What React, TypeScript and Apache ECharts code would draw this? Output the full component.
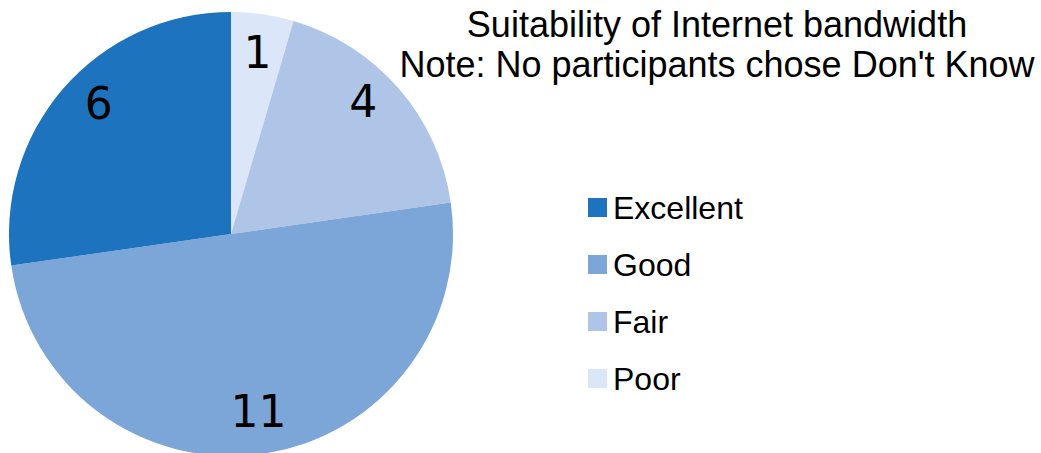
import React, { useEffect, useRef } from "react";
import * as echarts from "echarts";

const categories = ["Excellent", "Good", "Fair", "Poor"];
const values = [6, 11, 4, 1];
const colors = ["#1e73be", "#7da6d8", "#aec5e7", "#dbe7f8"];
// order of slices, clockwise from 12 o'clock
const sliceOrder = ["Poor", "Fair", "Good", "Excellent"];
const titleLines = [
  "Suitability of Internet bandwidth",
  "Note: No participants chose Don't Know",
];
// small label nudges (style only)
const labelOffsets: Record<string, number[]> = {
  Poor: [0, 4],
  Fair: [-9, -10],
  Good: [1, -8],
  Excellent: [9, -8],
};

export default function App() {
  const ref = useRef<HTMLDivElement>(null);
  useEffect(() => {
    document.body.style.margin = "0";
    const chart = echarts.init(ref.current!, null, { renderer: "svg" });
    const slices = sliceOrder.map((n) => {
      const i = categories.indexOf(n);
      return { name: n, value: values[i], itemStyle: { color: colors[i] } };
    });
    const center = [231, 234];
    const R = 222;
    chart.setOption({
      animation: false,
      graphic: [
        {
          type: "text",
          x: 717,
          y: 4,
          style: {
            text: titleLines.join("\n"),
            fill: "#000",
            fontSize: 36,
            fontFamily: "Liberation Sans",
            align: "center",
            textAlign: "center",
            verticalAlign: "top",
            textVerticalAlign: "top",
            lineHeight: 40,
          },
        },
      ],
      legend: {
        data: categories,
        orient: "vertical",
        left: 588,
        top: 191.5,
        padding: 0,
        itemWidth: 19,
        itemHeight: 19,
        itemGap: 25,
        icon: "rect",
        textStyle: {
          fontSize: 32,
          fontFamily: "Liberation Sans",
          color: "#000",
          lineHeight: 32,
          padding: [0, 0, 0, 1],
        },
      },
      series: [
        {
          type: "pie",
          center,
          radius: [0, R],
          startAngle: 90,
          clockwise: true,
          silent: true,
          data: slices,
          label: { show: false },
          labelLine: { show: false },
          itemStyle: { borderWidth: 0 },
        },
        {
          type: "pie",
          center,
          radius: [146, R],
          startAngle: 90,
          clockwise: true,
          silent: true,
          data: slices.map((s) => ({
            name: s.name + " label",
            value: s.value,
            label: { offset: labelOffsets[s.name] },
          })),
          itemStyle: { color: "transparent", borderWidth: 0 },
          label: {
            show: true,
            position: "inside",
            formatter: "{c}",
            fontSize: 44,
            fontFamily: "DejaVu Sans",
            color: "#000",
          },
          labelLine: { show: false },
        },
      ],
    });
    return () => chart.dispose();
  }, []);
  return <div ref={ref} style={{ width: 1041, height: 453 }} />;
}
